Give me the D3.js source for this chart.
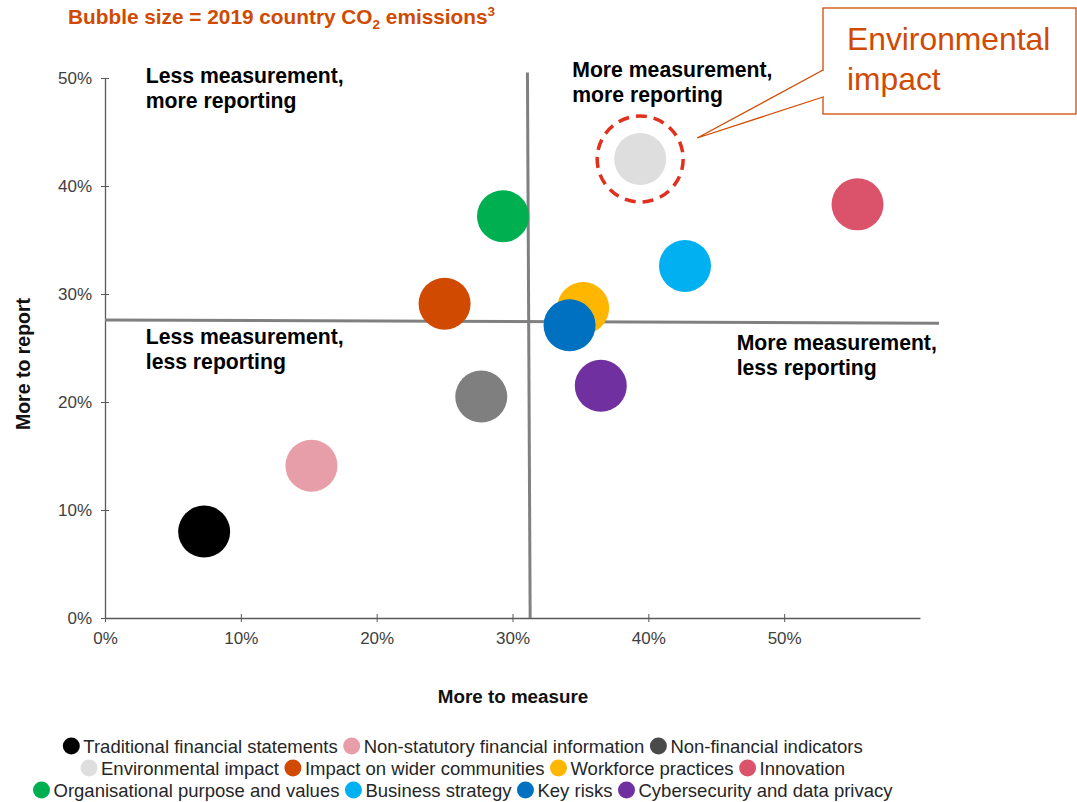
<!DOCTYPE html>
<html>
<head>
<meta charset="utf-8">
<script src="https://cdn.jsdelivr.net/npm/d3@7"></script>
<style>
  html, body { margin: 0; padding: 0; background: #ffffff; }
  svg { display: block; font-family: "Liberation Sans", Arial, sans-serif; }
</style>
</head>
<body>
<svg id="chart" width="1077" height="802"></svg>
<script>
// Report areas: share of respondents wanting more to measure / more to report
const categories = [
  "Traditional financial statements",
  "Non-statutory financial information",
  "Non-financial indicators",
  "Environmental impact",
  "Impact on wider communities",
  "Workforce practices",
  "Innovation",
  "Organisational purpose and values",
  "Business strategy",
  "Key risks",
  "Cybersecurity and data privacy"
];
const moreToMeasure = [0.073, 0.152, 0.277, 0.394, 0.250, 0.352, 0.554, 0.293, 0.427, 0.342, 0.365];
const moreToReport  = [0.080, 0.141, 0.205, 0.425, 0.291, 0.287, 0.383, 0.372, 0.326, 0.271, 0.215];
const bubbleColors  = ["#000000", "#e89ea8", "#7f7f7f", "#dedede", "#d04a02", "#ffb600",
                       "#db536a", "#00b050", "#00b0f0", "#0070c0", "#7030a0"];
const legendColors  = ["#000000", "#e89ea8", "#4a4a4a", "#dedede", "#d04a02", "#ffb600",
                       "#db536a", "#00b050", "#00b0f0", "#0070c0", "#7030a0"];
const legendRows = [[0, 1, 2], [3, 4, 5, 6], [7, 8, 9, 10]];

const xTicks = [0, 0.1, 0.2, 0.3, 0.4, 0.5];
const yTicks = [0, 0.1, 0.2, 0.3, 0.4, 0.5];

// Quadrant dividers (data units)
const dividerV = { x1: 0.311, y1: 0.505, x2: 0.313, y2: 0 };
const dividerH = { x1: 0, y1: 0.276, x2: 0.614, y2: 0.273 };

const quadrantLabels = [
  { x: 0.030, y: 0.495, lines: ["Less measurement,", "more reporting"] },
  { x: 0.344, y: 0.501, lines: ["More measurement,", "more reporting"] },
  { x: 0.030, y: 0.254, lines: ["Less measurement,", "less reporting"] },
  { x: 0.465, y: 0.248, lines: ["More measurement,", "less reporting"] }
];

const highlightIndex = 3;

const svg = d3.select("#chart");
const x = d3.scaleLinear().domain([0, 0.6]).range([105, 920]);
const y = d3.scaleLinear().domain([0, 0.5]).range([618, 78]);
const pct = d3.format(".0%");

// Title
const title = svg.append("text")
  .attr("x", 68).attr("y", 24)
  .attr("fill", "#d04a02")
  .attr("font-size", 20.8).attr("font-weight", "bold");
title.append("tspan").text("Bubble size = 2019 country CO");
title.append("tspan").attr("font-size", 13.5).attr("dy", 5).text("2");
title.append("tspan").attr("dy", -5).text(" emissions");
title.append("tspan").attr("font-size", 13.5).attr("dy", -8).text("3");

// Axes
const axisColor = "#595959";
const xAxis = svg.append("g")
  .attr("transform", `translate(0,${y(0)})`)
  .call(d3.axisBottom(x).tickValues(xTicks).tickFormat(pct).tickSizeInner(4).tickSizeOuter(0).tickPadding(10));
xAxis.selectAll(".tick line").attr("y1", -4).attr("y2", 4);

const yAxis = svg.append("g")
  .attr("transform", `translate(${x(0)},0)`)
  .call(d3.axisLeft(y).tickValues(yTicks).tickFormat(pct).tickSizeInner(4).tickSizeOuter(0).tickPadding(9));
yAxis.selectAll(".tick line").attr("x1", -4).attr("x2", 4);

[xAxis, yAxis].forEach(g => {
  g.select(".domain").attr("stroke", axisColor).attr("stroke-width", 1.3);
  g.selectAll(".tick line").attr("stroke", axisColor);
  g.selectAll(".tick text")
    .attr("fill", "#404040")
    .attr("font-size", 17)
    .attr("font-family", "Liberation Sans, Arial, sans-serif");
});

svg.append("text")
  .attr("x", 513).attr("y", 703)
  .attr("text-anchor", "middle")
  .attr("font-size", 18.8).attr("font-weight", "bold").attr("fill", "#111")
  .text("More to measure");

svg.append("text")
  .attr("transform", "translate(30,364) rotate(-90)")
  .attr("text-anchor", "middle")
  .attr("font-size", 19.5).attr("font-weight", "bold").attr("fill", "#111")
  .text("More to report");

// Quadrant dividers
[dividerV, dividerH].forEach(d => {
  svg.append("line")
    .attr("x1", x(d.x1)).attr("y1", y(d.y1))
    .attr("x2", x(d.x2)).attr("y2", y(d.y2))
    .attr("stroke", "#808080").attr("stroke-width", 3);
});

// Quadrant labels
quadrantLabels.forEach(q => {
  const t = svg.append("text")
    .attr("x", x(q.x)).attr("y", y(q.y))
    .attr("font-size", 21.2).attr("font-weight", "bold").attr("fill", "#000");
  q.lines.forEach((line, i) => {
    t.append("tspan").attr("x", x(q.x)).attr("dy", i === 0 ? 0 : 25).text(line);
  });
});

// Bubbles
const points = categories.map((c, i) => ({
  name: c, mx: moreToMeasure[i], rp: moreToReport[i], color: bubbleColors[i]
}));
svg.append("g").selectAll("circle")
  .data(points)
  .join("circle")
  .attr("cx", d => x(d.mx))
  .attr("cy", d => y(d.rp))
  .attr("r", 26)
  .attr("fill", d => d.color);

// Highlight ring and callout
const hp = points[highlightIndex];
const hx = x(hp.mx), hy = y(hp.rp);
svg.append("circle")
  .attr("cx", hx).attr("cy", hy).attr("r", 43)
  .attr("fill", "none")
  .attr("stroke", "#e0301e").attr("stroke-width", 3.5)
  .attr("stroke-dasharray", "11,7");

const boxX = 823, boxY = 8, boxW = 253, boxH = 106;
svg.append("rect")
  .attr("x", boxX).attr("y", boxY).attr("width", boxW).attr("height", boxH)
  .attr("fill", "#ffffff").attr("stroke", "#d04a02").attr("stroke-width", 1.3);
svg.append("path")
  .attr("d", `M${boxX},${boxY + 62} L${hx + 57},${hy - 21} L${boxX},${boxY + 89}`)
  .attr("fill", "#ffffff").attr("stroke", "#d04a02").attr("stroke-width", 1.3);
svg.append("line")
  .attr("x1", boxX).attr("y1", boxY + 63).attr("x2", boxX).attr("y2", boxY + 88)
  .attr("stroke", "#ffffff").attr("stroke-width", 2);
const ct = svg.append("text")
  .attr("x", 847).attr("y", 50)
  .attr("font-size", 31.8).attr("fill", "#d04a02");
ct.append("tspan").attr("x", 847).text("Environmental");
ct.append("tspan").attr("x", 847).attr("dy", 40).text("impact");

// Legend
const legend = svg.append("g");
const rowY = [746, 768, 790];
const centerX = 463;
legendRows.forEach((row, ri) => {
  const g = legend.append("g");
  let cursor = 0;
  row.forEach(idx => {
    g.append("circle")
      .attr("cx", cursor + 8).attr("cy", rowY[ri])
      .attr("r", 8.5)
      .attr("fill", legendColors[idx]);
    const t = g.append("text")
      .attr("x", cursor + 20).attr("y", rowY[ri] + 6.5)
      .attr("font-size", 18.5).attr("fill", "#262626")
      .text(categories[idx]);
    cursor += 20 + t.node().getComputedTextLength() + 6;
  });
  const width = cursor - 6;
  g.attr("transform", `translate(${centerX - width / 2},0)`);
});
</script>
</body>
</html>
